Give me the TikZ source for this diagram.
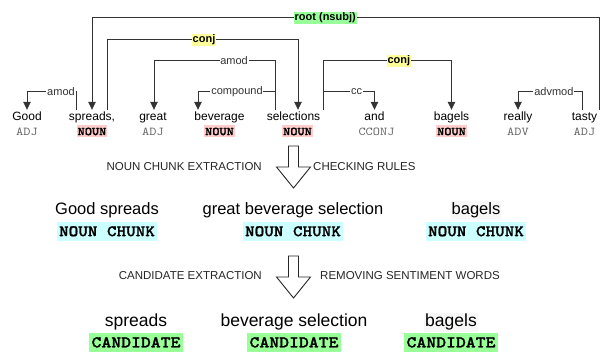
\documentclass[tikz,border=0pt]{standalone}
\usepackage{fontspec}
\setmainfont{Liberation Sans}
\newfontfamily\tagfont{lmmono10-regular.otf}[FakeStretch=1.14,BoldFont=lmmonolt10-bold.otf,BoldFeatures={FakeBold=1.2}]
\usetikzlibrary{arrows.meta,positioning}

\definecolor{nounpink}{RGB}{255,204,204}
\definecolor{chunkcyan}{RGB}{204,255,255}
\definecolor{candgreen}{RGB}{153,255,153}
\definecolor{conjyellow}{RGB}{255,255,153}

\tikzset{
  word/.style={font=\fontsize{12}{14}\selectfont, text height=9pt, text depth=3pt, inner sep=1pt},
  tag/.style={font=\tagfont\fontsize{12}{14}\selectfont, text=black!60, text height=8.5pt, text depth=1pt, inner xsep=1pt, inner ysep=1.25pt},
  noun/.style={tag, font=\tagfont\fontsize{12}{14}\selectfont\bfseries, text=black, fill=nounpink},
  dep/.style={draw=black!80, line width=0.8pt, -{Triangle[width=7.5pt,length=8pt]}},
  lab/.style={fill=white, font=\fontsize{11}{13}\selectfont, text=black!80, inner sep=0.8pt},
  rel/.style={lab, font=\fontsize{11}{13}\selectfont\bfseries, text=black},
  stage/.style={font=\fontsize{11.5}{13}\selectfont, text=black!85, inner sep=0pt},
  hollow/.style={draw=black!85, line width=0.9pt, fill=white, line join=miter},
  phrase/.style={font=\fontsize{16.5}{19}\selectfont, text height=12pt, text depth=3.5pt, inner sep=1pt},
  result/.style={font=\fontsize{17.5}{20}\selectfont, text height=13pt, text depth=4pt, inner sep=1pt},
  chunktag/.style={font=\tagfont\fontsize{16}{18}\selectfont\bfseries, fill=chunkcyan, text height=11pt, text depth=2pt, inner xsep=2.5pt, inner ysep=3pt},
  candtag/.style={chunktag, font=\tagfont\fontsize{16.5}{18}\selectfont\bfseries, fill=candgreen}
}

\begin{document}
\begin{tikzpicture}[x=1pt,y=-1pt]
\useasboundingbox (0,0) rectangle (601,351);
\clip (0,0) rectangle (601,351);

% sentence
\node[word] (good) at (27,117) {Good};
\node[word] (spreads) at (92,117) {spreads,};
\node[word] (great) at (153,117) {great};
\node[word] (beverage) at (219.5,117) {beverage};
\node[word] (selections) at (293.5,117) {selections};
\node[word] (and) at (374.5,117) {and};
\node[word] (bagels) at (451.5,117) {bagels};
\node[word] (really) at (518,117) {really};
\node[word] (tasty) at (584.5,117) {tasty};

\node[tag, below=1pt of good] (goodpos) {ADJ};
\node[noun, below=1pt of spreads] (spreadspos) {NOUN};
\node[tag, below=1pt of great] (greatpos) {ADJ};
\node[noun, below=1pt of beverage] (beveragepos) {NOUN};
\node[noun, below=1pt of selections, xshift=4pt] (selectionspos) {NOUN};
\node[tag, below=1pt of and, xshift=2pt] (andpos) {CCONJ};
\node[noun, below=1pt of bagels] (bagelspos) {NOUN};
\node[tag, below=1pt of really] (reallypos) {ADV};
\node[tag, below=1pt of tasty] (tastypos) {ADJ};

% dependency arcs
\draw[dep] ([xshift=14.5pt]tasty.north) -- ++(0,-92) -| node[rel,fill=candgreen,pos=0.27] {root (nsubj)} (spreads.north);
\draw[dep] ([xshift=15pt]spreads.north) -- ++(0,-70) -| node[rel,fill=conjyellow,pos=0.254] {conj} ([xshift=4.5pt]selections.north);
\draw[dep] ([xshift=-16pt]spreads.north) -- ++(0,-18) -| node[lab,pos=0.153] {amod} (good.north);
\draw[dep] ([xshift=-18.5pt]selections.north) -- ++(0,-49) -| node[lab,pos=0.169] {amod} ([xshift=1pt]great.north);
\draw[dep] ([xshift=-18.5pt]selections.north) -- ++(0,-18) -| node[lab,pos=0.247] {compound} ([xshift=-21.5pt]beverage.north);
\draw[dep] ([xshift=29.5pt]selections.north) -- ++(0,-49) -| node[rel,fill=conjyellow,pos=0.295] {conj} (bagels.north);
\draw[dep] ([xshift=29.5pt]selections.north) -- ++(0,-18) -| node[lab,pos=0.327] {cc} (and.north);
\draw[dep] ([xshift=-2.5pt]tasty.north) -- ++(0,-18) -| node[lab,pos=0.22] {advmod} (really.north);

% first step
\coordinate (down1) at (293.5,146);
\draw[hollow] (down1) ++(-5,0) -- ++(10,0) -- ++(0,21) -- ++(12,0) -- ++(-17,21) -- ++(-17,-21) -- ++(12,0) -- cycle;
\node[stage, anchor=east] (extract1) at (262,167) {NOUN CHUNK EXTRACTION};
\node[stage, anchor=west] (rules1) at (313,167) {CHECKING RULES};

\node[phrase] (chunk1) at (107,210) {Good spreads};
\node[phrase] (chunk2) at (293,210) {great beverage selection};
\node[phrase, fill=black!3] (chunk3) at (476,210) {bagels};
\node[chunktag, below=3pt of chunk1] (chunk1tag) {NOUN CHUNK};
\node[chunktag, below=3pt of chunk2] (chunk2tag) {NOUN CHUNK};
\node[chunktag, below=3pt of chunk3] (chunk3tag) {NOUN CHUNK};

% second step
\coordinate (down2) at (293.5,256);
\draw[hollow] (down2) ++(-5,0) -- ++(10,0) -- ++(0,21) -- ++(12,0) -- ++(-17,21) -- ++(-17,-21) -- ++(12,0) -- cycle;
\node[stage, anchor=east] (extract2) at (262,276) {CANDIDATE EXTRACTION};
\node[stage, anchor=west] (rules2) at (320,276) {REMOVING SENTIMENT WORDS};

\node[result] (cand1) at (136,322) {spreads};
\node[result] (cand2) at (294,322) {beverage selection};
\node[result, fill=black!3] (cand3) at (451,322) {bagels};
\node[candtag, below=1.5pt of cand1] (cand1tag) {CANDIDATE};
\node[candtag, below=1.5pt of cand2] (cand2tag) {CANDIDATE};
\node[candtag, below=1.5pt of cand3] (cand3tag) {CANDIDATE};
\end{tikzpicture}
\end{document}
